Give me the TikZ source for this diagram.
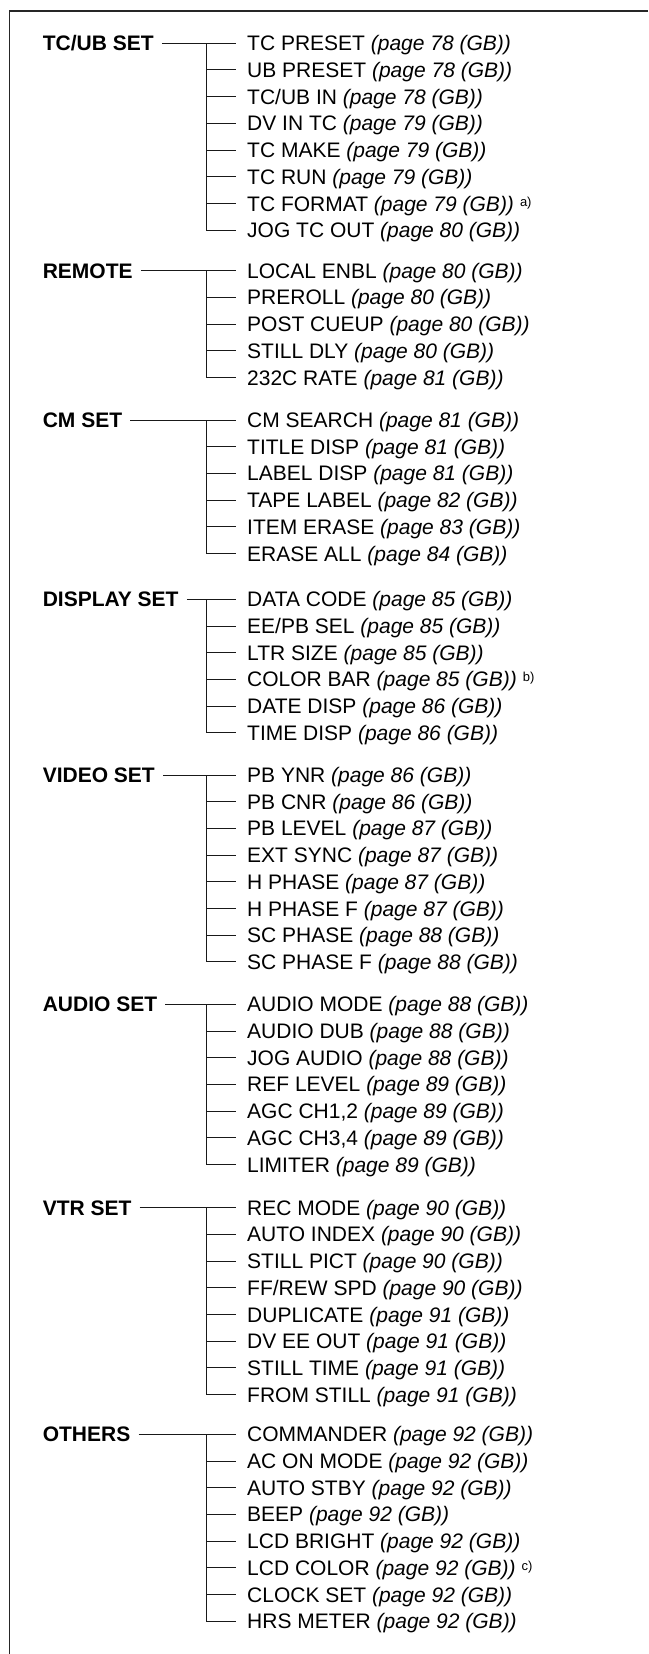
\documentclass[tikz,border=0pt]{standalone}
\usepackage{fontspec}
\setmainfont{Liberation Sans}
\newcommand\supfont{\fontsize{13}{14}\selectfont}
\tikzset{
  itemlab/.style={anchor=west, inner sep=0pt, text height=19pt, text depth=4pt,
    font=\fontsize{21}{24}\selectfont},
  grouplab/.style={itemlab, font=\fontsize{21}{24}\selectfont\bfseries},
  conn/.style={draw=black!90, line width=1pt},
  frameline/.style={draw=black!85, line width=1.4pt}
}
% #1 id, #2 first y, #3 label, #4 items (name/page/note), #5 number of items
\newcommand\menugroup[5]{%
  \node[grouplab] (g#1) at (42.6,#2) {#3};
  \foreach \itm/\pg/\nt [count=\k] in {#4} {%
    \node[itemlab] (c#1-\k) at (247,{#2+(\k-1)*26.7})
      {\itm\ \textit{(page \pg\ (GB))}\ifx\nt\empty\else\hspace{6pt}\raisebox{5pt}{\supfont\nt}\fi};
    \draw[conn, shorten >=11pt] (c#1-\k.west -| v) -- (c#1-\k.west);
  }
  \draw[conn, shorten <=8pt, shorten >=11pt] (g#1.east) -- (c#1-1.west);
  \draw[conn, shorten >=11pt] (c#1-1.west -| v) |- (c#1-#5.west);
}
\begin{document}
\begin{tikzpicture}[x=1pt, y=-1pt]
\useasboundingbox (0,0) rectangle (648,1654);
\coordinate (v) at (206,0);
\coordinate (fr1) at (648,11);
\coordinate (fr2) at (9.6,11);
\coordinate (fr3) at (9.6,1654);
\draw[frameline] (fr1) -- (fr2) -- (fr3);

\menugroup{1}{43.3}{TC/UB SET}{{TC PRESET}/78/{}, {UB PRESET}/78/{}, {TC/UB IN}/78/{}, {DV IN TC}/79/{}, {TC MAKE}/79/{}, {TC RUN}/79/{}, {TC FORMAT}/79/{a)}, {JOG TC OUT}/80/{}}{8}
\menugroup{2}{270.7}{REMOTE}{{LOCAL ENBL}/80/{}, {PREROLL}/80/{}, {POST CUEUP}/80/{}, {STILL DLY}/80/{}, {232C RATE}/81/{}}{5}
\menugroup{3}{420}{CM SET}{{CM SEARCH}/81/{}, {TITLE DISP}/81/{}, {LABEL DISP}/81/{}, {TAPE LABEL}/82/{}, {ITEM ERASE}/83/{}, {ERASE ALL}/84/{}}{6}
\menugroup{4}{599.3}{DISPLAY SET}{{DATA CODE}/85/{}, {EE/PB SEL}/85/{}, {LTR SIZE}/85/{}, {COLOR BAR}/85/{b)}, {DATE DISP}/86/{}, {TIME DISP}/86/{}}{6}
\menugroup{5}{775}{VIDEO SET}{{PB YNR}/86/{}, {PB CNR}/86/{}, {PB LEVEL}/87/{}, {EXT SYNC}/87/{}, {H PHASE}/87/{}, {H PHASE F}/87/{}, {SC PHASE}/88/{}, {SC PHASE F}/88/{}}{8}
\menugroup{6}{1004.3}{AUDIO SET}{{AUDIO MODE}/88/{}, {AUDIO DUB}/88/{}, {JOG AUDIO}/88/{}, {REF LEVEL}/89/{}, {AGC CH1,2}/89/{}, {AGC CH3,4}/89/{}, {LIMITER}/89/{}}{7}
\menugroup{7}{1207.7}{VTR SET}{{REC MODE}/90/{}, {AUTO INDEX}/90/{}, {STILL PICT}/90/{}, {FF/REW SPD}/90/{}, {DUPLICATE}/91/{}, {DV EE OUT}/91/{}, {STILL TIME}/91/{}, {FROM STILL}/91/{}}{8}
\menugroup{8}{1434.3}{OTHERS}{{COMMANDER}/92/{}, {AC ON MODE}/92/{}, {AUTO STBY}/92/{}, {BEEP}/92/{}, {LCD BRIGHT}/92/{}, {LCD COLOR}/92/{c)}, {CLOCK SET}/92/{}, {HRS METER}/92/{}}{8}
\end{tikzpicture}
\end{document}
